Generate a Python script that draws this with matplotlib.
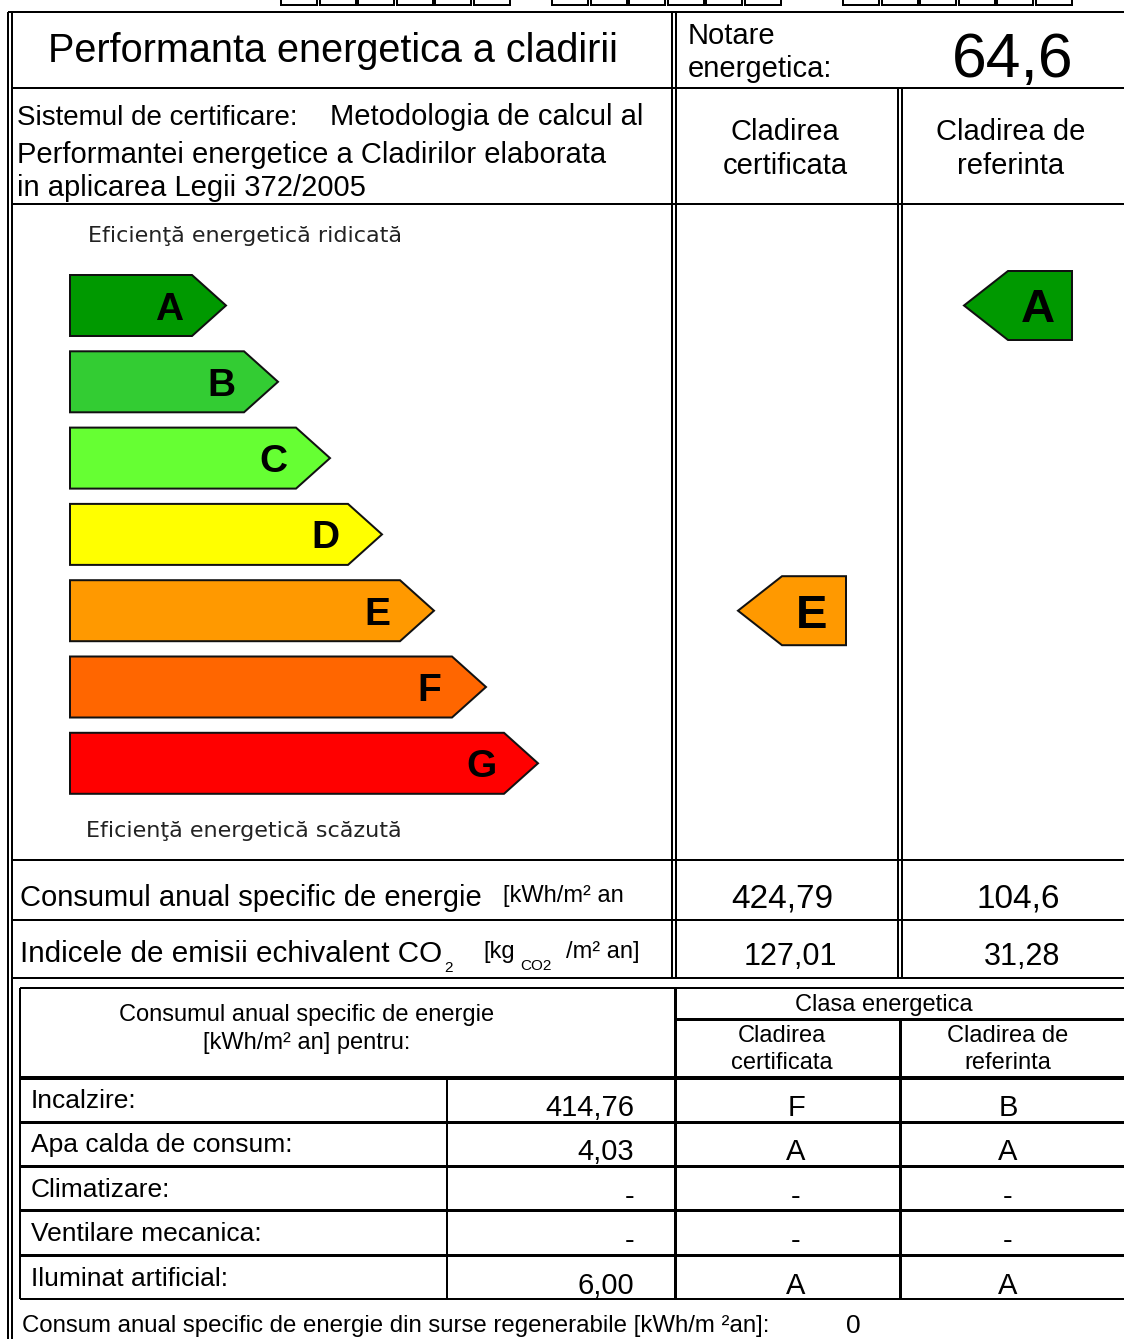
import matplotlib
matplotlib.use("Agg")
import matplotlib.pyplot as plt
from matplotlib.patches import Polygon, Rectangle

# certificate data
title = "Performanta energetica a cladirii"
rating = "64,6"
classes = ["A", "B", "C", "D", "E", "F", "G"]
class_colors = ["#009900", "#33cc33", "#66ff33", "#ffff00", "#ff9900", "#ff6600", "#ff0000"]
cert_class = "E"
ref_class = "A"
energy_cert = "424,79"
energy_ref = "104,6"
co2_cert = "127,01"
co2_ref = "31,28"
uses = ["Incalzire:", "Apa calda de consum:", "Climatizare:", "Ventilare mecanica:", "Iluminat artificial:"]
use_values = ["414,76", "4,03", "-", "-", "6,00"]
use_cert_class = ["F", "A", "-", "-", "A"]
use_ref_class = ["B", "A", "-", "-", "A"]
renewable = "0"

FONT = "Liberation Sans"
PX = 0.72  # points per pixel at dpi 100

fig = plt.figure(figsize=(11.24, 13.39), dpi=100)
ax = fig.add_axes([0, 0, 1, 1])
ax.set_xlim(0, 1124)
ax.set_ylim(1339, 0)
ax.axis("off")


def hline(y, x0, x1, w=2):
    ax.plot([x0, x1], [y, y], color="black", lw=w * PX, solid_capstyle="butt")


def vline(x, y0, y1, w=2):
    ax.plot([x, x], [y0, y1], color="black", lw=w * PX, solid_capstyle="butt")


def txt(x, y, s, size, ha="left", **kw):
    kw.setdefault("family", FONT)
    ax.text(x, y, s, fontsize=size, ha=ha, va="baseline", **kw)


# small boxes at the very top (cut off)
for gx in [281, 552, 843]:
    for k in range(6):
        ax.add_patch(Rectangle((gx + k * 38.5, -20), 36, 25, fill=False, lw=2 * PX, ec="black"))

# outer frame
vline(8, 12, 1339)
vline(12, 12, 1339)
hline(12, 8, 1124)
hline(88, 12, 1124)
hline(204, 12, 1124)
hline(860, 12, 1124)
hline(920, 12, 1124)
hline(978, 12, 1124)
vline(672, 12, 978)
vline(676, 12, 978)
vline(898, 88, 978)
vline(902, 88, 978)

# header texts
txt(333, 62, title, 28.5, ha="center")
txt(688, 44, "Notare", 21)
txt(688, 77, "energetica:", 21)
txt(1013, 77, rating, 45, ha="center")
txt(17, 125, "Sistemul de certificare:", 20)
txt(330, 125, "Metodologia de calcul al", 21)
txt(17, 163, "Performantei energetice a Cladirilor elaborata", 21)
txt(17, 196, "in aplicarea Legii 372/2005", 21)
for cx, l1, l2 in [(785, "Cladirea", "certificata"), (1011, "Cladirea de", "referinta")]:
    txt(cx, 140, l1, 21, ha="center")
    txt(cx, 174, l2, 21, ha="center")

# efficiency scale
txt(88, 242, "Eficienţă energetică ridicată", 16, family="DejaVu Sans", color="#222222")
txt(86, 837, "Eficienţă energetică scăzută", 16, family="DejaVu Sans", color="#222222")

row_top0, row_step, row_h = 275, 76.3, 61
x0, len0, len_step, tip = 70, 122, 52, 34
for i, (c, col) in enumerate(zip(classes, class_colors)):
    top = row_top0 + i * row_step
    x1 = x0 + len0 + i * len_step
    pts = [(x0, top), (x1, top), (x1 + tip, top + row_h / 2), (x1, top + row_h), (x0, top + row_h)]
    ax.add_patch(Polygon(pts, closed=True, fc=col, ec="#111111", lw=2 * PX, joinstyle="miter"))
    ax.text(x1 - 23, top + row_h / 2, c, fontsize=28, fontweight="bold", family=FONT,
            ha="center", va="center_baseline")


def side_arrow(cls, tip_x):
    i = classes.index(cls)
    mid = row_top0 + i * row_step + row_h / 2
    h = 69
    pts = [(tip_x, mid), (tip_x + 44, mid - h / 2), (tip_x + 108, mid - h / 2),
           (tip_x + 108, mid + h / 2), (tip_x + 44, mid + h / 2)]
    ax.add_patch(Polygon(pts, closed=True, fc=class_colors[i], ec="#111111", lw=2 * PX, joinstyle="miter"))
    ax.text(tip_x + 74, mid, cls, fontsize=34, fontweight="bold", family=FONT,
            ha="center", va="center_baseline")


side_arrow(cert_class, 738)
side_arrow(ref_class, 964)

# energy / co2 rows
txt(20, 906, "Consumul anual specific de energie", 21)
txt(503, 902, "[kWh/m² an", 17)
txt(782, 907, energy_cert, 24, ha="center")
txt(1018, 907, energy_ref, 24, ha="center")

txt(20, 962, "Indicele de emisii echivalent CO", 21.3)
txt(444, 972, "2", 11)
txt(483, 958, "[kg", 17)
txt(520, 970, "CO2", 11)
txt(566, 958, "/m² an]", 17)
txt(790, 965, co2_cert, 22, ha="center")
txt(1022, 965, co2_ref, 22, ha="center")

# lower table
vline(20, 988, 1299)
hline(988, 20, 1124)
vline(675, 988, 1299, 3)
hline(1019, 675, 1124, 3)
vline(900, 1019, 1299, 3)
hline(1078, 20, 1124, 4)
row_lines = [1122, 1166, 1210, 1255]
for y in row_lines:
    hline(y, 20, 1124, 3)
hline(1299, 20, 1124, 2)
vline(447, 1078, 1299, 2)

txt(307, 1021, "Consumul anual specific de energie", 17, ha="center")
txt(307, 1049, "[kWh/m² an] pentru:", 17, ha="center")
txt(884, 1011, "Clasa energetica", 17, ha="center")
txt(782, 1042, "Cladirea", 17, ha="center")
txt(782, 1069, "certificata", 17, ha="center")
txt(1008, 1042, "Cladirea de", 17, ha="center")
txt(1008, 1069, "referinta", 17, ha="center")

row_base0, row_base_step = 1108, 44.4
for i, (u, v, cc, rc) in enumerate(zip(uses, use_values, use_cert_class, use_ref_class)):
    yb = row_base0 + i * row_base_step
    txt(31, yb, u, 19)
    txt(634, yb + 8, v, 21, ha="right")
    txt(796, yb + 8, cc, 21, ha="center")
    txt(1008, yb + 8, rc, 21, ha="center")

txt(22, 1332, "Consum anual specific de energie din surse regenerabile [kWh/m ²an]:", 17.3)
txt(853, 1333, renewable, 19, ha="center")

fig.savefig("out.png", dpi=100)
